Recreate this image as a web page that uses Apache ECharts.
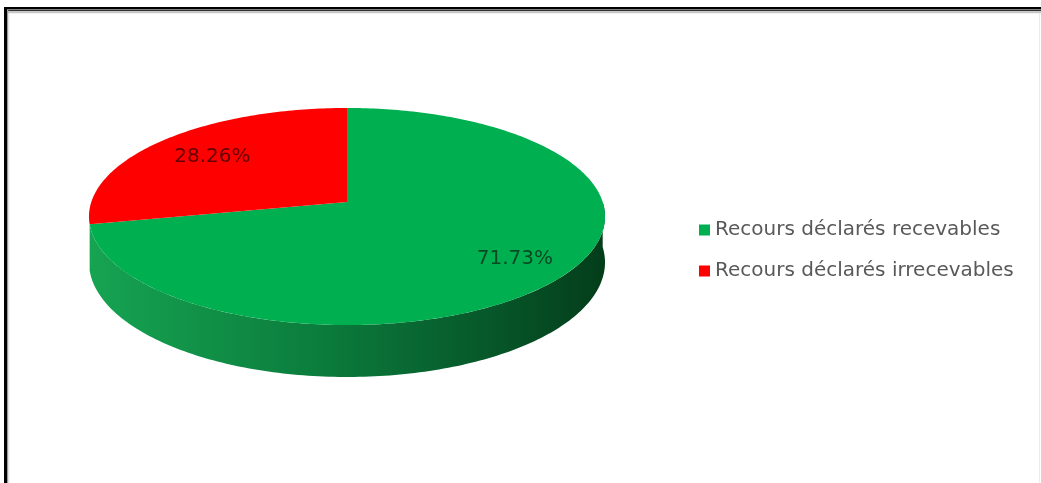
<!DOCTYPE html>
<html>
<head>
<meta charset="utf-8">
<script src="https://cdn.jsdelivr.net/npm/echarts@6/dist/echarts.min.js"></script>
<style>
html,body{margin:0;padding:0;background:#fff;}
#chart{width:1041px;height:483px;}
</style>
</head>
<body>
<div id="chart"></div>
<script>
// ---- data ----
const categories = ['Recours déclarés recevables', 'Recours déclarés irrecevables'];
const values = [71.73, 28.26];

// ---- style ----
const topColors = ['#00b050', '#ff0000'];
const sideColors = [
  [[0, '#16a452'], [0.45, '#0b7c3c'], [0.75, '#075a2b'], [1, '#033d1a']],
  [[0, '#d00000'], [1, '#800000']]
];
const labelColors = ['#0a4a22', '#640000'];
const labelRadius = [0.79, 0.72];

// ---- 3D pie geometry (layout) ----
const CX = 347, CY = 202, A = 255.7, B = 106.6, K = 0.1336, T = 45;
const MIN_SIDE_SPAN = 15; // degrees: hide hairline side slivers at the silhouette

function proj(phiDeg, r, drop) {
  const p = phiDeg * Math.PI / 180;
  const u = r * Math.cos(p), v = r * Math.sin(p);
  const d = 1 + K * v;
  return [CX + A * u / d, CY - B * v / d + drop / d];
}
function arc(a, b, drop) {
  const pts = [];
  const n = Math.max(2, Math.ceil(Math.abs(a - b)));
  for (let i = 0; i <= n; i++) pts.push(proj(a + (b - a) * i / n, 1, drop));
  return pts;
}

const total = values.reduce((s, v) => s + v, 0);

function renderItem(params, api) {
  const si = params.seriesIndex;
  let before = 0;
  for (let i = 0; i < si; i++) before += values[i];
  const start = 90 - 360 * before / total;
  const end = start - 360 * api.value(0) / total;
  const children = [];
  // visible side walls (front half: sin < 0)
  for (let n = -2; n <= 1; n++) {
    const lo = -180 + 360 * n, hi = 360 * n;
    const a = Math.min(start, hi), b = Math.max(end, lo);
    if (a - b > MIN_SIDE_SPAN) {
      const topArc = arc(a, b, 0);
      const botArc = arc(b, a, T);
      children.push({
        type: 'polygon', z2: 0,
        shape: { points: topArc.concat(botArc) },
        style: {
          fill: {
            type: 'linear', x: CX - A * 1.01, y: 0, x2: CX + A * 1.01, y2: 0, global: true,
            colorStops: sideColors[si].map(s => ({ offset: s[0], color: s[1] }))
          }
        }
      });
    }
  }
  // top face
  const pts = [proj(0, 0, 0)].concat(arc(start, end, 0));
  children.push({ type: 'polygon', z2: 10, shape: { points: pts }, style: { fill: topColors[si] } });
  // label
  const mid = (start + end) / 2;
  const lp = proj(mid, labelRadius[si], 0);
  children.push({
    type: 'text', z2: 20, x: lp[0], y: lp[1],
    style: {
      text: values[si].toFixed(2) + '%', fill: labelColors[si],
      font: '20px "DejaVu Sans"', align: 'center', verticalAlign: 'middle'
    }
  });
  return { type: 'group', children };
}

const chart = echarts.init(document.getElementById('chart'), null, { renderer: 'canvas' });
chart.setOption({
  animation: false,
  backgroundColor: '#ffffff',
  legend: {
    data: categories,
    orient: 'vertical',
    left: 694,
    top: 215,
    icon: 'rect',
    itemWidth: 11,
    itemHeight: 11,
    itemGap: 21,
    textStyle: { fontFamily: 'DejaVu Sans', fontSize: 20, lineHeight: 20, color: '#595959' }
  },
  graphic: [
    { type: 'rect', shape: { x: 4, y: 7, width: 1037, height: 2.5 }, style: { fill: '#000' } },
    { type: 'rect', shape: { x: 4, y: 7, width: 3, height: 476 }, style: { fill: '#000' } },
    { type: 'rect', shape: { x: 7, y: 10, width: 1034, height: 1.3 }, style: { fill: '#333' } },
    { type: 'rect', shape: { x: 7, y: 11.3, width: 1034, height: 2 }, style: { fill: '#c8c8c8' } },
    { type: 'rect', shape: { x: 7, y: 10, width: 1.3, height: 473 }, style: { fill: '#999' } },
    { type: 'rect', shape: { x: 8.3, y: 13, width: 1, height: 470 }, style: { fill: '#e2e2e2' } },
    { type: 'rect', shape: { x: 1039, y: 13, width: 1, height: 470 }, style: { fill: '#ececec' } }
  ],
  series: categories.map((name, i) => ({
    type: 'custom',
    name: name,
    coordinateSystem: 'none',
    itemStyle: { color: topColors[i] },
    data: [values[i]],
    renderItem: renderItem
  }))
});
</script>
</body>
</html>
